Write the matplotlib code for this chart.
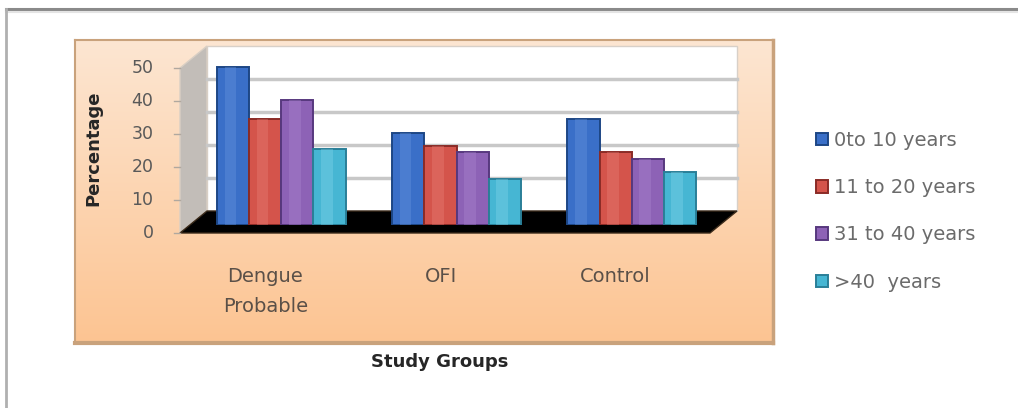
import numpy as np
import matplotlib
matplotlib.use("Agg")
import matplotlib.pyplot as plt
from matplotlib.patches import Polygon
from matplotlib.lines import Line2D
from matplotlib.transforms import ScaledTranslation

# data
groups = ["Dengue\nProbable", "OFI", "Control"]
age_bands = ["0to 10 years", "11 to 20 years", "31 to 40 years", ">40  years"]
pct_0_10 = [48, 28, 32]
pct_11_20 = [32, 24, 22]
pct_31_40 = [38, 22, 20]
pct_40_up = [23, 14, 16]
y_ticks = [0, 10, 20, 30, 40, 50]

series = [pct_0_10, pct_11_20, pct_31_40, pct_40_up]
colors = ["#3a6fc8", "#d4544b", "#8d62b6", "#46b6d3"]
edges = ["#1d4685", "#8a2b26", "#57387e", "#2a7f98"]
lights = ["#6d9ae0", "#e98279", "#ad8ad0", "#86d6ea"]

plt.rcParams['font.family'] = ['DejaVu Sans']
W, H = 1018, 408
DPI = 100
fig = plt.figure(figsize=(W / DPI, H / DPI), dpi=DPI)
fig.patch.set_facecolor("white")


def fx(x):
    return x / W


def fy(y):
    return 1 - y / H


# outer grey frame (top and left)
fig.add_artist(Line2D([fx(6), 1], [fy(9), fy(9)], color="#8a8a8a", lw=2.2))
fig.add_artist(Line2D([fx(6), 1], [fy(11.5), fy(11.5)], color="#e4e4e4", lw=1.5))
fig.add_artist(Line2D([fx(6), fx(6)], [fy(9), 0], color="#b0b0b0", lw=2))

# orange plot area with gradient
bg = fig.add_axes([fx(75), fy(343), 698 / W, 303 / H], zorder=0)
grad = np.linspace(0, 1, 256).reshape(-1, 1)
top = np.array([253, 230, 210]) / 255
bot = np.array([252, 196, 146]) / 255
img = top + (bot - top) * grad[:, :, None]
bg.imshow(img, aspect="auto", extent=[0, 1, 0, 1])
bg.set_xticks([])
bg.set_yticks([])
for s in bg.spines.values():
    s.set_color("#c9a27c")
    s.set_linewidth(1.5)
bg.spines["bottom"].set_linewidth(3)
bg.spines["right"].set_linewidth(2.5)

# main axes = plane where the bars stand
ax = fig.add_axes([fx(188), fy(225), 530 / W, 165 / H], zorder=2)
ax.set_xlim(-0.534, 2.494)
ax.set_ylim(0, 50)
ax.axis("off")

off_front = ScaledTranslation(-8 / DPI, -8 / DPI, fig.dpi_scale_trans)
off_back = ScaledTranslation(19 / DPI, 14 / DPI, fig.dpi_scale_trans)
to_fig = fig.transFigure.inverted()


def corner(x, y, off):
    p = (ax.transData + off).transform((x, y))
    return to_fig.transform(p)


x0, x1 = ax.get_xlim()
y0, y1 = ax.get_ylim()

# back wall
back = [corner(x0, y0, off_back), corner(x1, y0, off_back),
        corner(x1, y1, off_back), corner(x0, y1, off_back)]
fig.add_artist(Polygon(back, closed=True, facecolor="white", edgecolor="#d8d0c8",
                       lw=1, transform=fig.transFigure, zorder=1))

# gridlines on the back wall
for v in y_ticks[1:-1]:
    ax.plot([x0, x1], [v, v], color="#c8c8c8", lw=2.5,
            transform=ax.transData + off_back, clip_on=False, zorder=1)

# side wall
side = [corner(x0, y0, off_front), corner(x0, y1, off_front),
        corner(x0, y1, off_back), corner(x0, y0, off_back)]
fig.add_artist(Polygon(side, closed=True, facecolor="#c2bdb8", edgecolor="#d9cfc4",
                       lw=1, transform=fig.transFigure, zorder=1))

# black floor
floor = [corner(x0, y0, off_front), corner(x1, y0, off_front),
         corner(x1, y0, off_back), corner(x0, y0, off_back)]
fig.add_artist(Polygon(floor, closed=True, facecolor="black", edgecolor="#3a2a1a",
                       lw=1, transform=fig.transFigure, zorder=1))

# bars
w = 0.183
idx = np.arange(len(groups))
handles = []
for k, vals in enumerate(series):
    xs = idx + (k - 1.5) * w
    b = ax.bar(xs, vals, width=w, color=colors[k], edgecolor=edges[k], lw=1.4,
               zorder=3, label=age_bands[k])
    ax.bar(xs - w * 0.08, vals, width=w * 0.35, color=lights[k], alpha=0.35,
           lw=0, zorder=4)
    handles.append(b)

# y tick labels and small tick marks on the front edge
for v in y_ticks:
    ax.text(-0.05, v, str(v), transform=ax.get_yaxis_transform() + off_front,
            ha="right", va="center", fontsize=12.5, color="#595959")
    ax.plot([-0.012, 0], [v, v], color="#b0a89f", lw=1,
            transform=ax.get_yaxis_transform() + off_front, clip_on=False)

# category labels
lab_off = ScaledTranslation(-16 / DPI, -42 / DPI, fig.dpi_scale_trans)
for i, g in enumerate(groups):
    ax.text(idx[i], 0, g, transform=ax.transData + lab_off, ha="center", va="top",
            fontsize=14, color="#5a5048", linespacing=1.7)

fig.text(fx(93), fy(148), "Percentage", rotation=90, ha="center", va="center",
         fontsize=13, fontweight="bold", color="#262626")
fig.text(fx(440), fy(362), "Study Groups", ha="center", va="center",
         fontsize=13, fontweight="bold", color="#262626")

leg = fig.legend(handles=handles, labels=age_bands, loc="upper left",
                 bbox_to_anchor=(fx(816), fy(131)), bbox_transform=fig.transFigure,
                 frameon=False, fontsize=14, handlelength=0.6, handleheight=0.6,
                 handletextpad=0.3, labelspacing=1.45, borderaxespad=0, borderpad=0)
for t in leg.get_texts():
    t.set_color("#6b6b6b")

fig.savefig("out.png", dpi=DPI)
